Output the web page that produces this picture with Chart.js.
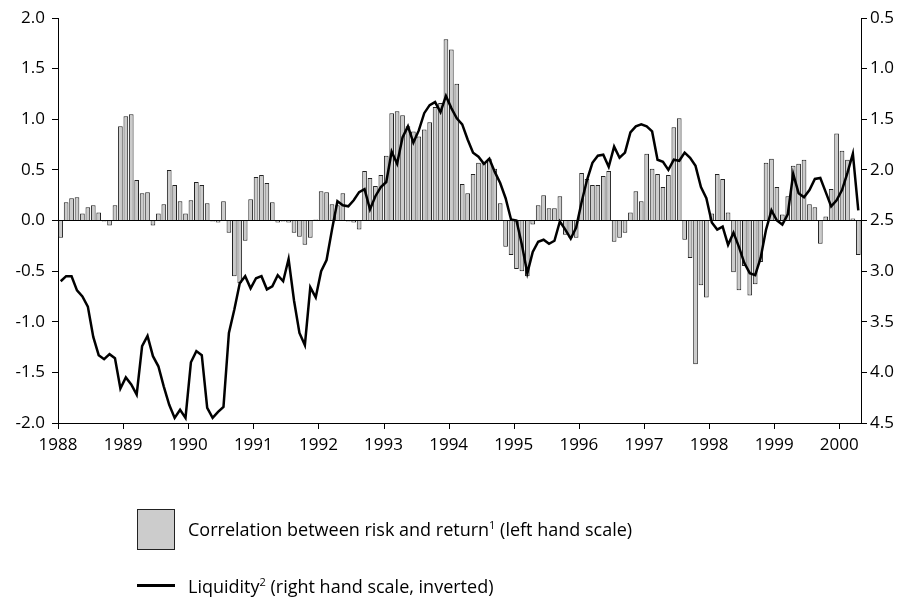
<!DOCTYPE html>
<html>
<head>
<meta charset="utf-8">
<script src="https://cdn.jsdelivr.net/npm/chart.js@4.4.1/dist/chart.umd.min.js"></script>
<style>
  html, body { margin: 0; padding: 0; background: #fff; }
  #wrap { position: relative; width: 910px; height: 601px; font-family: "Open Sans", sans-serif; color: #000; }
  #chart { position: absolute; left: 0; top: 0; }
  .swatch-bar { position: absolute; left: 137px; top: 509px; width: 36px; height: 39px; background: #cccccc; border: 1px solid #222; }
  .swatch-line { position: absolute; left: 137px; top: 584px; width: 38px; height: 2.5px; background: #000; }
  .key { position: absolute; left: 188px; font-size: 18px; line-height: 22px; white-space: nowrap; }
  .key sup { font-size: 11px; line-height: 0; vertical-align: 7px; }
</style>
</head>
<body>
<div id="wrap">
  <canvas id="chart" width="910" height="601"></canvas>
  <div class="swatch-bar"></div>
  <div class="key" style="top:518px;">Correlation between risk and return<sup>1</sup> (left hand scale)</div>
  <div class="swatch-line"></div>
  <div class="key" style="top:575px;">Liquidity<sup>2</sup> (right hand scale, inverted)</div>
</div>
<script>
// monthly data, Jan 1988 .. Apr 2000
const startYear = 1988;
const yearTicks = [1988, 1989, 1990, 1991, 1992, 1993, 1994, 1995, 1996, 1997, 1998, 1999, 2000];

// correlation between risk and return (left scale)
const correlation = [
  -0.17, 0.18, 0.22, 0.23, 0.07, 0.13, 0.15, 0.08, -0.01, -0.05, 0.15, 0.93,
  1.03, 1.05, 0.40, 0.27, 0.28, -0.05, 0.07, 0.16, 0.50, 0.35, 0.19, 0.07,
  0.20, 0.38, 0.35, 0.17, -0.01, -0.02, 0.19, -0.12, -0.55, -0.62, -0.20, 0.21,
  0.43, 0.45, 0.37, 0.18, -0.02, -0.01, -0.02, -0.12, -0.16, -0.24, -0.17, 0.01,
  0.29, 0.28, 0.16, 0.15, 0.27, -0.01, -0.02, -0.09, 0.49, 0.42, 0.34, 0.45,
  0.64, 1.06, 1.08, 1.04, 0.93, 0.88, 0.83, 0.90, 0.97, 1.12, 1.16, 1.79,
  1.69, 1.35, 0.36, 0.27, 0.46, 0.57, 0.57, 0.61, 0.51, 0.17, -0.26, -0.34,
  -0.48, -0.50, -0.55, -0.04, 0.15, 0.25, 0.12, 0.12, 0.24, -0.14, -0.17, -0.17,
  0.47, 0.41, 0.35, 0.35, 0.44, 0.49, -0.21, -0.17, -0.12, 0.08, 0.29, 0.19,
  0.66, 0.51, 0.46, 0.33, 0.45, 0.92, 1.01, -0.19, -0.37, -1.42, -0.64, -0.76,
  0.07, 0.46, 0.41, 0.08, -0.51, -0.69, -0.45, -0.74, -0.63, -0.41, 0.57, 0.61,
  0.33, 0.06, 0.24, 0.54, 0.56, 0.60, 0.16, 0.13, -0.23, 0.04, 0.31, 0.86,
  0.69, 0.60, 0.02, -0.34
];

// liquidity (right scale, inverted)
const liquidity = [
  3.10, 3.05, 3.05, 3.19, 3.25, 3.35, 3.65, 3.83, 3.87, 3.82, 3.86, 4.16,
  4.05, 4.12, 4.22, 3.74, 3.64, 3.84, 3.94, 4.14, 4.32, 4.45, 4.37, 4.45,
  3.90, 3.79, 3.83, 4.35, 4.45, 4.39, 4.34, 3.61, 3.38, 3.12, 3.05, 3.17,
  3.07, 3.05, 3.18, 3.15, 3.04, 3.10, 2.88, 3.29, 3.61, 3.73, 3.16, 3.26,
  3.00, 2.89, 2.59, 2.31, 2.35, 2.36, 2.30, 2.22, 2.19, 2.39, 2.26, 2.17,
  2.12, 1.82, 1.94, 1.68, 1.57, 1.73, 1.61, 1.44, 1.36, 1.33, 1.43, 1.27,
  1.39, 1.49, 1.55, 1.70, 1.83, 1.87, 1.94, 1.89, 2.02, 2.13, 2.28, 2.49,
  2.50, 2.74, 3.02, 2.81, 2.71, 2.69, 2.73, 2.70, 2.51, 2.59, 2.68, 2.57,
  2.32, 2.10, 1.93, 1.86, 1.85, 1.97, 1.77, 1.88, 1.83, 1.63, 1.57, 1.55,
  1.57, 1.62, 1.90, 1.92, 2.00, 1.90, 1.91, 1.83, 1.88, 1.96, 2.17, 2.28,
  2.52, 2.59, 2.56, 2.74, 2.62, 2.76, 2.92, 3.02, 3.04, 2.87, 2.59, 2.40,
  2.50, 2.54, 2.44, 2.04, 2.23, 2.27, 2.20, 2.09, 2.08, 2.22, 2.36, 2.30,
  2.20, 2.03, 1.84, 2.40
];

const months = correlation.map((v, i) => startYear + (i + 0.5) / 12);
const endX = startYear + correlation.length / 12;

Chart.defaults.font.family = '"Open Sans", sans-serif';
Chart.defaults.font.size = 17;
Chart.defaults.color = '#000';

// year tick marks under the x axis, placed by the x scale
const yearTickMarks = {
  id: 'yearTickMarks',
  afterDraw(chart) {
    const s = chart.scales.x;
    const c = chart.ctx;
    c.save();
    c.strokeStyle = '#000';
    c.lineWidth = 1;
    c.beginPath();
    s.ticks.forEach((t, i) => {
      const px = Math.round(s.getPixelForTick(i)) + 0.5;
      c.moveTo(px, s.top);
      c.lineTo(px, s.top + 6);
    });
    c.stroke();
    c.restore();
  }
};

const ctx = document.getElementById('chart').getContext('2d');
const chart = new Chart(ctx, {
  type: 'line',
  data: {
    datasets: [
      {
        type: 'line',
        label: 'Liquidity',
        data: months.map((x, i) => ({ x: x, y: liquidity[i] })),
        yAxisID: 'y1',
        borderColor: '#000',
        borderWidth: 2.5,
        pointRadius: 0,
        tension: 0,
        order: 0
      },
      {
        type: 'bar',
        label: 'Correlation',
        data: months.map((x, i) => ({ x: x, y: correlation[i] })),
        yAxisID: 'y',
        backgroundColor: '#cbcbcb',
        borderColor: '#222',
        borderWidth: 1,
        barPercentage: 0.86,
        categoryPercentage: 1,
        order: 1
      }
    ]
  },
  options: {
    responsive: false,
    animation: false,
    layout: { padding: { top: 18, left: 0, right: 0, bottom: 0 } },
    plugins: { legend: { display: false }, tooltip: { enabled: false } },
    scales: {
      x: {
        type: 'linear',
        offset: false,
        min: startYear,
        max: endX,
        afterFit: s => { s.height = 178; },
        afterBuildTicks: s => { s.ticks = yearTicks.map(v => ({ value: v })); },
        ticks: {
          autoSkip: false,
          maxRotation: 0,
          padding: 12,
          callback: v => String(v)
        },
        grid: { offset: false, drawOnChartArea: false, drawTicks: false },
        border: { display: true, color: '#000', width: 1 }
      },
      y: {
        position: 'left',
        min: -2,
        max: 2,
        afterFit: s => { s.width = 58; },
        ticks: { stepSize: 0.5, padding: 7, callback: v => v.toFixed(1) },
        grid: {
          color: c => (c.tick && c.tick.value === 0 ? '#000' : 'rgba(0,0,0,0)'),
          tickColor: '#000',
          tickLength: 6
        },
        border: { color: '#000', width: 1 }
      },
      y1: {
        position: 'right',
        reverse: true,
        min: 0.5,
        max: 4.5,
        afterFit: s => { s.width = 49; },
        ticks: { stepSize: 0.5, padding: 3, callback: v => v.toFixed(1) },
        grid: { drawOnChartArea: false, tickColor: '#000', tickLength: 6 },
        border: { color: '#000', width: 1 }
      }
    }
  },
  plugins: [yearTickMarks]
});
</script>
</body>
</html>
